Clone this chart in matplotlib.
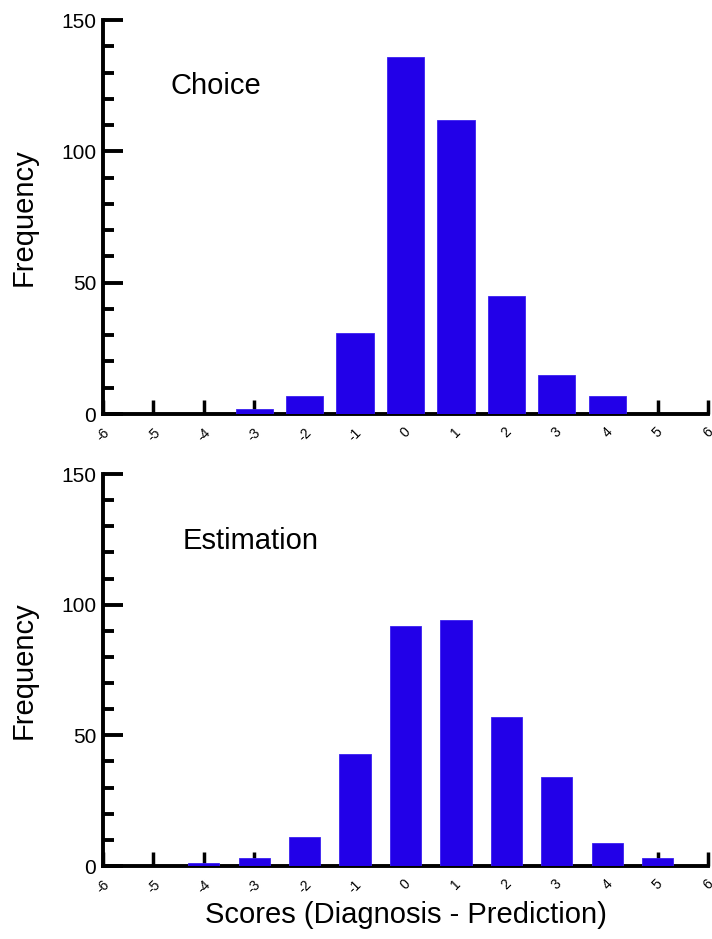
import matplotlib
matplotlib.use("Agg")
import matplotlib.pyplot as plt
from matplotlib.ticker import MultipleLocator

# data
scores = [-6, -5, -4, -3, -2, -1, 0, 1, 2, 3, 4, 5, 6]
choice_freq = [0, 0, 0, 2, 7, 31, 136, 112, 45, 15, 7, 0, 0]
estimation_freq = [0, 0, 1, 3, 11, 43, 92, 94, 57, 34, 9, 3, 0]
tick_labels = [str(s) for s in scores]

plt.rcParams['font.family'] = ['Liberation Sans', 'DejaVu Sans']
bar_color = '#2200e8'

fig = plt.figure(figsize=(7.12, 9.39), dpi=100)
ax1 = fig.add_axes([0.1447, 0.5591, 0.8497, 0.4196])
ax2 = fig.add_axes([0.1447, 0.0777, 0.8497, 0.4175])


def style_axis(ax, values, width, title, title_pos):
    ax.bar(scores, values, width=width, color=bar_color, edgecolor='#3a20f0',
           linewidth=0.6, zorder=3)
    ax.set_xlim(-6, 6)
    ax.set_ylim(0, 150)
    for side in ['top', 'right']:
        ax.spines[side].set_visible(False)
    for side in ['left', 'bottom']:
        ax.spines[side].set_linewidth(2.8)
    ax.set_xticks(scores)
    # the last label runs off the right edge, as in the original
    ax.set_xticklabels(tick_labels, rotation=45, fontsize=10)
    ax.yaxis.set_major_locator(MultipleLocator(50))
    ax.yaxis.set_minor_locator(MultipleLocator(10))
    ax.tick_params(axis='y', which='major', direction='in', length=14.5,
                   width=2.8, labelsize=15, pad=5)
    ax.tick_params(axis='y', which='minor', direction='in', length=8, width=2.8)
    ax.tick_params(axis='x', which='major', direction='in', length=10,
                   width=2.5, pad=8)
    ax.set_ylabel('Frequency', fontsize=21, labelpad=17)
    ax.text(title_pos[0], title_pos[1], title, transform=ax.transAxes,
            fontsize=21, ha='left', va='center')


style_axis(ax1, choice_freq, 0.74, 'Choice', (0.112, 0.832))
style_axis(ax2, estimation_freq, 0.62, 'Estimation', (0.131, 0.829))
ax2.set_xlabel('Scores (Diagnosis - Prediction)', fontsize=21, labelpad=4)

fig.savefig('out.png', dpi=100)
